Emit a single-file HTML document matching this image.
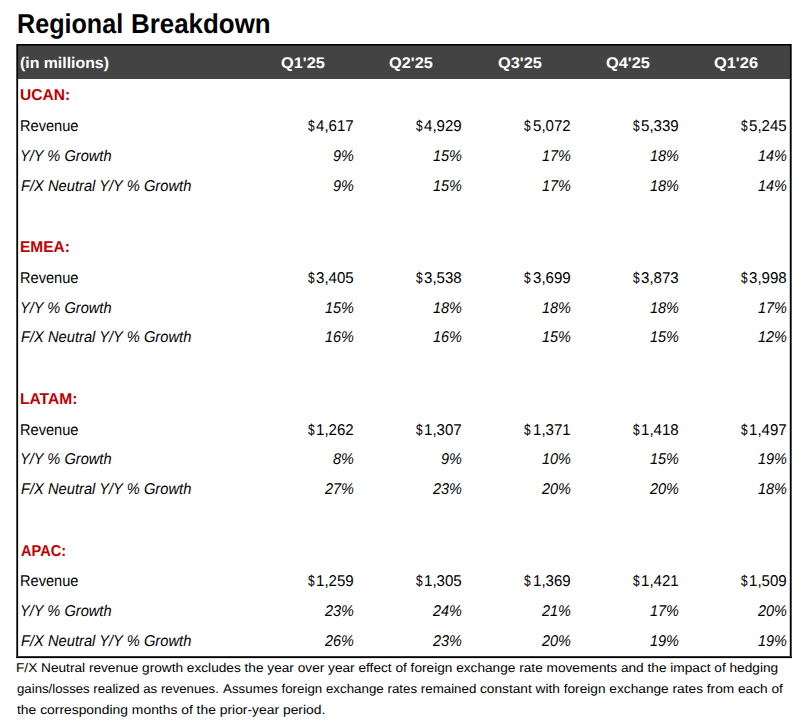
<!DOCTYPE html>
<html><head><meta charset="utf-8"><style>
html,body{margin:0;padding:0;background:#fff;}
body{width:809px;height:727px;position:relative;overflow:hidden;font-family:"Liberation Sans",sans-serif;color:#000;}
span{position:absolute;text-rendering:geometricPrecision;white-space:nowrap;line-height:1;transform-origin:0 0;}
.r{position:absolute;}
</style></head><body>
<div class="r" style="left:18px;top:46px;width:772px;height:33px;background:#434343"></div>
<div class="r" style="left:16px;top:44px;width:776px;height:1px;background:#000"></div>
<div class="r" style="left:16px;top:45px;width:776px;height:1px;background:#1c1c1c"></div>
<div class="r" style="left:16px;top:44px;width:1px;height:614px;background:#505050"></div>
<div class="r" style="left:17px;top:44px;width:1px;height:614px;background:#000"></div>
<div class="r" style="left:18px;top:79px;width:1px;height:577px;background:#e2e2e2"></div>
<div class="r" style="left:789px;top:79px;width:1px;height:577px;background:#c8c8c8"></div>
<div class="r" style="left:790px;top:44px;width:1px;height:614px;background:#000"></div>
<div class="r" style="left:791px;top:44px;width:1px;height:614px;background:#555"></div>
<div class="r" style="left:16px;top:656px;width:776px;height:1px;background:#333"></div>
<div class="r" style="left:16px;top:657px;width:776px;height:1px;background:#000"></div>
<div class="r" style="left:16px;top:658px;width:776px;height:1px;background:#e6e6e6"></div>
<span style="left:16.93px;top:10.00px;font-size:27.3px;font-weight:bold;transform:scaleX(0.9209);">Regional</span>
<span style="left:131.18px;top:10.00px;font-size:27.3px;font-weight:bold;transform:scaleX(0.9492);">Breakdown</span>
<span style="left:20.48px;top:56.00px;font-size:15.4px;font-weight:bold;color:#fff;transform:scaleX(1.0297);">(in millions)</span>
<span style="left:281.01px;top:56.00px;font-size:15.4px;font-weight:bold;color:#fff;transform:scaleX(1.0627);">Q1'25</span>
<span style="left:389.31px;top:56.00px;font-size:15.4px;font-weight:bold;color:#fff;transform:scaleX(1.0627);">Q2'25</span>
<span style="left:497.61px;top:56.00px;font-size:15.4px;font-weight:bold;color:#fff;transform:scaleX(1.0627);">Q3'25</span>
<span style="left:605.91px;top:56.00px;font-size:15.4px;font-weight:bold;color:#fff;transform:scaleX(1.0627);">Q4'25</span>
<span style="left:714.21px;top:56.00px;font-size:15.4px;font-weight:bold;color:#fff;transform:scaleX(1.0653);">Q1'26</span>
<span style="left:20.31px;top:88.00px;font-size:15.8px;font-weight:bold;color:#c00000;transform:scaleX(0.9847);">UCAN:</span>
<span style="left:20.18px;top:119.00px;font-size:15.6px;transform:scaleX(0.9361);">Revenue</span>
<span style="left:19.80px;top:149.00px;font-size:15.6px;font-style:italic;transform:scaleX(0.9374);">Y/Y % Growth</span>
<span style="left:20.92px;top:179.00px;font-size:15.6px;font-style:italic;transform:scaleX(0.9433);">F/X Neutral Y/Y % Growth</span>
<span style="left:308.02px;top:119.00px;font-size:15.6px;transform:scaleX(0.7619);">$</span>
<span style="left:316.11px;top:119.00px;font-size:15.6px;transform:scaleX(0.9668);">4,617</span>
<span style="left:333.39px;top:149.00px;font-size:15.6px;font-style:italic;transform:scaleX(0.9286);">9%</span>
<span style="left:333.39px;top:179.00px;font-size:15.6px;font-style:italic;transform:scaleX(0.9286);">9%</span>
<span style="left:416.22px;top:119.00px;font-size:15.6px;transform:scaleX(0.7619);">$</span>
<span style="left:424.31px;top:119.00px;font-size:15.6px;transform:scaleX(0.9668);">4,929</span>
<span style="left:433.43px;top:149.00px;font-size:15.6px;font-style:italic;transform:scaleX(0.9286);">15%</span>
<span style="left:433.43px;top:179.00px;font-size:15.6px;font-style:italic;transform:scaleX(0.9286);">15%</span>
<span style="left:524.42px;top:119.00px;font-size:15.6px;transform:scaleX(0.7619);">$</span>
<span style="left:532.51px;top:119.00px;font-size:15.6px;transform:scaleX(0.9668);">5,072</span>
<span style="left:541.53px;top:149.00px;font-size:15.6px;font-style:italic;transform:scaleX(0.9286);">17%</span>
<span style="left:541.53px;top:179.00px;font-size:15.6px;font-style:italic;transform:scaleX(0.9286);">17%</span>
<span style="left:632.62px;top:119.00px;font-size:15.6px;transform:scaleX(0.7619);">$</span>
<span style="left:640.71px;top:119.00px;font-size:15.6px;transform:scaleX(0.9668);">5,339</span>
<span style="left:649.63px;top:149.00px;font-size:15.6px;font-style:italic;transform:scaleX(0.9286);">18%</span>
<span style="left:649.63px;top:179.00px;font-size:15.6px;font-style:italic;transform:scaleX(0.9286);">18%</span>
<span style="left:740.82px;top:119.00px;font-size:15.6px;transform:scaleX(0.7619);">$</span>
<span style="left:748.91px;top:119.00px;font-size:15.6px;transform:scaleX(0.9668);">5,245</span>
<span style="left:757.73px;top:149.00px;font-size:15.6px;font-style:italic;transform:scaleX(0.9286);">14%</span>
<span style="left:757.73px;top:179.00px;font-size:15.6px;font-style:italic;transform:scaleX(0.9286);">14%</span>
<span style="left:20.22px;top:240.00px;font-size:15.8px;font-weight:bold;color:#c00000;transform:scaleX(0.9804);">EMEA:</span>
<span style="left:20.18px;top:271.00px;font-size:15.6px;transform:scaleX(0.9361);">Revenue</span>
<span style="left:19.80px;top:301.00px;font-size:15.6px;font-style:italic;transform:scaleX(0.9374);">Y/Y % Growth</span>
<span style="left:20.92px;top:330.00px;font-size:15.6px;font-style:italic;transform:scaleX(0.9433);">F/X Neutral Y/Y % Growth</span>
<span style="left:308.02px;top:271.00px;font-size:15.6px;transform:scaleX(0.7619);">$</span>
<span style="left:316.11px;top:271.00px;font-size:15.6px;transform:scaleX(0.9668);">3,405</span>
<span style="left:325.33px;top:301.00px;font-size:15.6px;font-style:italic;transform:scaleX(0.9286);">15%</span>
<span style="left:325.33px;top:330.00px;font-size:15.6px;font-style:italic;transform:scaleX(0.9286);">16%</span>
<span style="left:416.22px;top:271.00px;font-size:15.6px;transform:scaleX(0.7619);">$</span>
<span style="left:424.31px;top:271.00px;font-size:15.6px;transform:scaleX(0.9668);">3,538</span>
<span style="left:433.43px;top:301.00px;font-size:15.6px;font-style:italic;transform:scaleX(0.9286);">18%</span>
<span style="left:433.43px;top:330.00px;font-size:15.6px;font-style:italic;transform:scaleX(0.9286);">16%</span>
<span style="left:524.42px;top:271.00px;font-size:15.6px;transform:scaleX(0.7619);">$</span>
<span style="left:532.51px;top:271.00px;font-size:15.6px;transform:scaleX(0.9668);">3,699</span>
<span style="left:541.53px;top:301.00px;font-size:15.6px;font-style:italic;transform:scaleX(0.9286);">18%</span>
<span style="left:541.53px;top:330.00px;font-size:15.6px;font-style:italic;transform:scaleX(0.9286);">15%</span>
<span style="left:632.62px;top:271.00px;font-size:15.6px;transform:scaleX(0.7619);">$</span>
<span style="left:640.71px;top:271.00px;font-size:15.6px;transform:scaleX(0.9668);">3,873</span>
<span style="left:649.63px;top:301.00px;font-size:15.6px;font-style:italic;transform:scaleX(0.9286);">18%</span>
<span style="left:649.63px;top:330.00px;font-size:15.6px;font-style:italic;transform:scaleX(0.9286);">15%</span>
<span style="left:740.82px;top:271.00px;font-size:15.6px;transform:scaleX(0.7619);">$</span>
<span style="left:748.91px;top:271.00px;font-size:15.6px;transform:scaleX(0.9668);">3,998</span>
<span style="left:757.73px;top:301.00px;font-size:15.6px;font-style:italic;transform:scaleX(0.9286);">17%</span>
<span style="left:757.73px;top:330.00px;font-size:15.6px;font-style:italic;transform:scaleX(0.9286);">12%</span>
<span style="left:20.21px;top:392.00px;font-size:15.8px;font-weight:bold;color:#c00000;transform:scaleX(0.9867);">LATAM:</span>
<span style="left:20.18px;top:423.00px;font-size:15.6px;transform:scaleX(0.9361);">Revenue</span>
<span style="left:19.80px;top:452.00px;font-size:15.6px;font-style:italic;transform:scaleX(0.9374);">Y/Y % Growth</span>
<span style="left:20.92px;top:482.00px;font-size:15.6px;font-style:italic;transform:scaleX(0.9433);">F/X Neutral Y/Y % Growth</span>
<span style="left:308.02px;top:423.00px;font-size:15.6px;transform:scaleX(0.7619);">$</span>
<span style="left:316.11px;top:423.00px;font-size:15.6px;transform:scaleX(0.9668);">1,262</span>
<span style="left:333.39px;top:452.00px;font-size:15.6px;font-style:italic;transform:scaleX(0.9286);">8%</span>
<span style="left:325.33px;top:482.00px;font-size:15.6px;font-style:italic;transform:scaleX(0.9286);">27%</span>
<span style="left:416.22px;top:423.00px;font-size:15.6px;transform:scaleX(0.7619);">$</span>
<span style="left:424.31px;top:423.00px;font-size:15.6px;transform:scaleX(0.9668);">1,307</span>
<span style="left:441.49px;top:452.00px;font-size:15.6px;font-style:italic;transform:scaleX(0.9286);">9%</span>
<span style="left:433.43px;top:482.00px;font-size:15.6px;font-style:italic;transform:scaleX(0.9286);">23%</span>
<span style="left:524.42px;top:423.00px;font-size:15.6px;transform:scaleX(0.7619);">$</span>
<span style="left:532.51px;top:423.00px;font-size:15.6px;transform:scaleX(0.9668);">1,371</span>
<span style="left:541.53px;top:452.00px;font-size:15.6px;font-style:italic;transform:scaleX(0.9286);">10%</span>
<span style="left:541.53px;top:482.00px;font-size:15.6px;font-style:italic;transform:scaleX(0.9286);">20%</span>
<span style="left:632.62px;top:423.00px;font-size:15.6px;transform:scaleX(0.7619);">$</span>
<span style="left:640.71px;top:423.00px;font-size:15.6px;transform:scaleX(0.9668);">1,418</span>
<span style="left:649.63px;top:452.00px;font-size:15.6px;font-style:italic;transform:scaleX(0.9286);">15%</span>
<span style="left:649.63px;top:482.00px;font-size:15.6px;font-style:italic;transform:scaleX(0.9286);">20%</span>
<span style="left:740.82px;top:423.00px;font-size:15.6px;transform:scaleX(0.7619);">$</span>
<span style="left:748.91px;top:423.00px;font-size:15.6px;transform:scaleX(0.9668);">1,497</span>
<span style="left:757.73px;top:452.00px;font-size:15.6px;font-style:italic;transform:scaleX(0.9286);">19%</span>
<span style="left:757.73px;top:482.00px;font-size:15.6px;font-style:italic;transform:scaleX(0.9286);">18%</span>
<span style="left:20.92px;top:544.00px;font-size:15.8px;font-weight:bold;color:#c00000;transform:scaleX(0.9236);">APAC:</span>
<span style="left:20.18px;top:574.00px;font-size:15.6px;transform:scaleX(0.9361);">Revenue</span>
<span style="left:19.80px;top:604.00px;font-size:15.6px;font-style:italic;transform:scaleX(0.9374);">Y/Y % Growth</span>
<span style="left:20.92px;top:634.00px;font-size:15.6px;font-style:italic;transform:scaleX(0.9433);">F/X Neutral Y/Y % Growth</span>
<span style="left:308.02px;top:574.00px;font-size:15.6px;transform:scaleX(0.7619);">$</span>
<span style="left:316.11px;top:574.00px;font-size:15.6px;transform:scaleX(0.9668);">1,259</span>
<span style="left:325.33px;top:604.00px;font-size:15.6px;font-style:italic;transform:scaleX(0.9286);">23%</span>
<span style="left:325.33px;top:634.00px;font-size:15.6px;font-style:italic;transform:scaleX(0.9286);">26%</span>
<span style="left:416.22px;top:574.00px;font-size:15.6px;transform:scaleX(0.7619);">$</span>
<span style="left:424.31px;top:574.00px;font-size:15.6px;transform:scaleX(0.9668);">1,305</span>
<span style="left:433.43px;top:604.00px;font-size:15.6px;font-style:italic;transform:scaleX(0.9286);">24%</span>
<span style="left:433.43px;top:634.00px;font-size:15.6px;font-style:italic;transform:scaleX(0.9286);">23%</span>
<span style="left:524.42px;top:574.00px;font-size:15.6px;transform:scaleX(0.7619);">$</span>
<span style="left:532.51px;top:574.00px;font-size:15.6px;transform:scaleX(0.9668);">1,369</span>
<span style="left:541.53px;top:604.00px;font-size:15.6px;font-style:italic;transform:scaleX(0.9286);">21%</span>
<span style="left:541.53px;top:634.00px;font-size:15.6px;font-style:italic;transform:scaleX(0.9286);">20%</span>
<span style="left:632.62px;top:574.00px;font-size:15.6px;transform:scaleX(0.7619);">$</span>
<span style="left:640.71px;top:574.00px;font-size:15.6px;transform:scaleX(0.9668);">1,421</span>
<span style="left:649.63px;top:604.00px;font-size:15.6px;font-style:italic;transform:scaleX(0.9286);">17%</span>
<span style="left:649.63px;top:634.00px;font-size:15.6px;font-style:italic;transform:scaleX(0.9286);">19%</span>
<span style="left:740.82px;top:574.00px;font-size:15.6px;transform:scaleX(0.7619);">$</span>
<span style="left:748.91px;top:574.00px;font-size:15.6px;transform:scaleX(0.9668);">1,509</span>
<span style="left:757.73px;top:604.00px;font-size:15.6px;font-style:italic;transform:scaleX(0.9286);">20%</span>
<span style="left:757.73px;top:634.00px;font-size:15.6px;font-style:italic;transform:scaleX(0.9286);">19%</span>
<span style="left:16.42px;top:662.00px;font-size:12.7px;transform:scaleX(1.0767);">F/X Neutral revenue growth excludes the year over year effect of foreign exchange rate movements and the impact of hedging</span>
<span style="left:16.88px;top:683.00px;font-size:12.7px;transform:scaleX(1.0410);">gains/losses realized as revenues.</span>
<span style="left:223.10px;top:683.00px;font-size:12.7px;transform:scaleX(1.0504);">Assumes foreign exchange rates remained</span>
<span style="left:479.86px;top:683.00px;font-size:12.7px;transform:scaleX(1.0790);">constant with foreign exchange rates from each of</span>
<span style="left:17.39px;top:704.00px;font-size:12.7px;transform:scaleX(1.0930);">the corresponding months of the prior-year period.</span>
</body></html>
